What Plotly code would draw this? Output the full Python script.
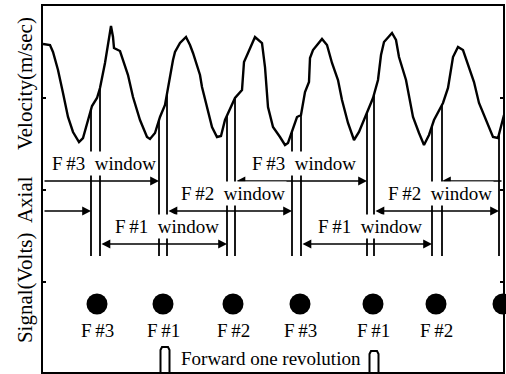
import numpy as np
import plotly.graph_objects as go

# axial velocity trace (sample units across the frame, signal units up)
wave_x = [0, 7, 10, 15, 20, 25, 30, 36, 40, 45, 49, 54, 57, 62, 65, 68, 70, 71, 77, 80,
          85, 90, 97, 104, 107, 112, 117, 122, 125, 130, 132, 137, 143, 147, 150, 157, 159,
          164, 169, 174, 178, 182, 185, 192, 199, 201, 205, 212, 219, 222, 225, 230, 237,
          242, 245, 249, 254, 258, 262, 266, 267, 270, 279, 284, 289, 295, 299, 305, 311,
          316, 324, 330, 335, 338, 341, 349, 353, 356, 363, 370, 376, 381, 386, 391, 400,
          405, 410, 415, 420, 426, 431, 436, 443, 450, 455, 458, 461]
wave_y = [328, 327, 320, 302, 279, 255, 240, 230, 234, 252, 266, 274, 284, 309, 329, 346,
          335, 324, 321, 312, 297, 275, 252, 235, 233, 239, 255, 267, 285, 312, 320, 329,
          335, 327, 319, 297, 285, 265, 245, 235, 236, 252, 259, 274, 282, 310, 319, 335,
          329, 305, 265, 245, 235, 227, 229, 240, 255, 257, 280, 290, 314, 322, 333, 327,
          309, 292, 272, 249, 232, 240, 260, 274, 292, 317, 330, 339, 332, 315, 292, 255,
          239, 227, 237, 252, 269, 284, 315, 325, 322, 305, 290, 269, 252, 235, 234, 245, 257]

# trigger line pairs (left / right line of each pair)
pair_left = [48, 116, 184, 249, 324, 389, 456]
pair_right = [57, 124, 192, 258, 331, 399]
line_bottom = 116

# windows: start, end, row level, label, heads
win_start = [0, 192, 399, 0, 124, 331, 57, 258]
win_end = [116, 324, 460, 48, 249, 456, 184, 389]
win_level = [191, 191, 191, 161, 161, 161, 128, 128]
win_label = ["F#3", "F#3", "", "", "F#2", "F#2", "F#1", "F#1"]
win_heads = ["end", "both", "start", "end", "both", "both", "both", "both"]

# blade markers
blade_x = [54, 120, 190, 257, 330, 393, 460]
blade_label = ["F#3", "F#1", "F#2", "F#3", "F#1", "F#2", ""]
blade_level = 68

# once-per-rev pulses
pulse_x = [122, 331]
pulse_h = [25, 21]

FONT = "Liberation Serif"

fig = go.Figure()

fig.add_trace(go.Scatter(x=wave_x, y=wave_y, mode="lines",
                         line=dict(color="black", width=2.4), hoverinfo="skip"))

lx, ly = [], []
for xv in pair_left + pair_right:
    top = float(np.interp(xv, wave_x, wave_y))
    lx += [xv, xv, None]
    ly += [top, line_bottom, None]
fig.add_trace(go.Scatter(x=lx, y=ly, mode="lines",
                         line=dict(color="black", width=1.8), hoverinfo="skip"))

fig.add_trace(go.Scatter(x=blade_x, y=[blade_level] * len(blade_x), mode="markers",
                         marker=dict(color="black", size=21), cliponaxis=False,
                         hoverinfo="skip"))

px_, py_ = [], []
for xv, h in zip(pulse_x, pulse_h):
    px_ += [xv - 4.5, xv - 4.5, xv - 3, xv + 3, xv + 4.5, xv + 4.5, None]
    py_ += [0, h - 3, h, h, h - 3, 0, None]
fig.add_trace(go.Scatter(x=px_, y=py_, mode="lines",
                         line=dict(color="black", width=2), hoverinfo="skip"))

anns = []
for s, e, lev, lab, hd in zip(win_start, win_end, win_level, win_label, win_heads):
    if hd == "start":
        hx, tx, side = s, e, "end"
    else:
        hx, tx, side = e, s, "end+start" if hd == "both" else "end"
    anns.append(dict(x=hx, y=lev, ax=tx, ay=lev, xref="x", yref="y", axref="x", ayref="y",
                     text="", showarrow=True, arrowhead=2, arrowsize=1.1, arrowwidth=1.6,
                     arrowcolor="black", arrowside=side, standoff=0, startstandoff=0))
    if lab:
        anns.append(dict(x=(s + e) / 2 + 3, y=lev + 18, xref="x", yref="y", showarrow=False,
                         text=lab.replace("#", "\u2009#") + "\u00a0 window",
                         font=dict(family=FONT, size=19, color="black"),
                         bgcolor="white"))

for xv, lab in zip(blade_x, blade_label):
    if lab:
        anns.append(dict(x=xv, y=blade_level - 26, xref="x", yref="y", showarrow=False,
                         text=lab.replace("#", "\u2009#"),
                         font=dict(family=FONT, size=19, color="black")))

anns.append(dict(x=(pulse_x[0] + pulse_x[1]) / 2 + 1, y=14, xref="x", yref="y",
                 showarrow=False, text="Forward one revolution",
                 font=dict(family=FONT, size=19, color="black")))

for txt, yv in [("Signal(Volts)", 84), ("Axial", 172), ("Velocity(m/sec)", 288)]:
    anns.append(dict(x=-0.039, y=yv / 366, xref="paper", yref="paper", showarrow=False,
                     xanchor="center", yanchor="middle",
                     text=txt, textangle=-90,
                     font=dict(family=FONT, size=21, color="black")))

fig.update_layout(
    width=506, height=374,
    margin=dict(l=43, r=3, t=6, b=2),
    paper_bgcolor="white", plot_bgcolor="white",
    showlegend=False,
    annotations=anns,
    xaxis=dict(range=[0, 460], showgrid=False, zeroline=False, showticklabels=False,
               showline=True, mirror=True, linecolor="black", linewidth=2, ticks=""),
    yaxis=dict(range=[0, 366], showgrid=False, zeroline=False, showticklabels=False,
               showline=True, mirror="ticks", linecolor="black", linewidth=2,
               ticks="inside", ticklen=3, tickcolor="black", tickwidth=2,
               tickvals=[90, 182, 274]),
)

fig.write_html("out.html", config={"displayModeBar": False},
               post_script="document.body.style.margin='0';")
